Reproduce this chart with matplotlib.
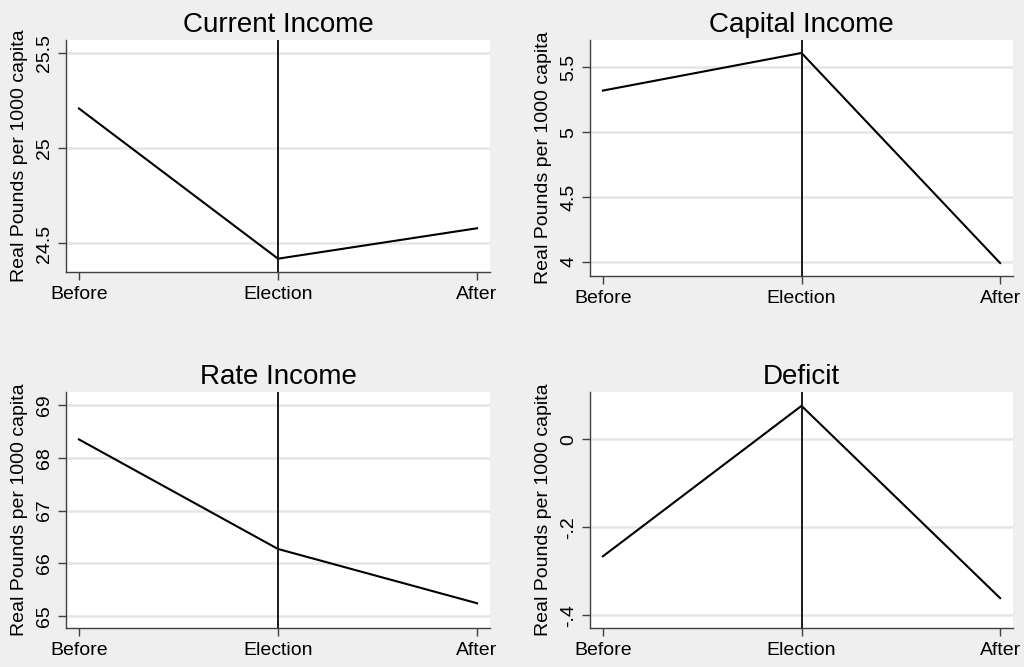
import matplotlib
matplotlib.use("Agg")
import matplotlib.pyplot as plt

plt.rcParams["font.family"] = ["Liberation Sans", "DejaVu Sans"]

periods = ["Before", "Election", "After"]
x = [1, 2, 3]

current_income = [25.21, 24.42, 24.58]
capital_income = [5.32, 5.61, 3.99]
rate_income = [68.35, 66.27, 65.24]
deficit = [-0.266, 0.076, -0.361]

current_ticks = [24.5, 25, 25.5]
capital_ticks = [4, 4.5, 5, 5.5]
rate_ticks = [65, 66, 67, 68, 69]
deficit_ticks = [-0.4, -0.2, 0]
deficit_ticklabels = ["-.4", "-.2", "0"]

bg = "#efefef"
W, H = 1024, 667

fig = plt.figure(figsize=(W / 100, H / 100), dpi=100, facecolor=bg)


def make_axes(left, right, top, bottom):
    return fig.add_axes([left / W, 1 - bottom / H, (right - left) / W, (bottom - top) / H])


def panel(ax, title, values, ticks, ylim, ticklabels=None):
    ax.set_facecolor("white")
    ax.plot(x, values, color="black", lw=1.5, zorder=3)
    ax.axvline(2, color="#1a1a1a", lw=1.4, zorder=4)
    ax.set_xlim(0.935, 3.065)
    ax.set_ylim(*ylim)
    ax.set_xticks(x)
    ax.set_xticklabels(periods)
    ax.set_yticks(ticks)
    if ticklabels is None:
        ticklabels = [f"{t:g}" for t in ticks]
    ax.set_yticklabels(ticklabels, rotation=90, va="center")
    ax.yaxis.grid(True, color="#e6e6e6", lw=1.8, zorder=0)
    ax.set_axisbelow(True)
    for side in ["top", "right"]:
        ax.spines[side].set_visible(False)
    for side in ["left", "bottom"]:
        ax.spines[side].set_color("#404040")
        ax.spines[side].set_linewidth(1.0)
    ax.tick_params(axis="both", length=6, width=1.0, color="#404040",
                   labelsize=14)
    ax.tick_params(axis="x", pad=4)
    ax.tick_params(axis="y", pad=3)
    ax.set_title(title, fontsize=20, pad=6)
    ax.set_ylabel("Real Pounds per 1000 capita", fontsize=14)
    ax.yaxis.set_label_coords(-0.09, 0.5)


ax1 = make_axes(66, 490, 40, 272)
panel(ax1, "Current Income", current_income, current_ticks, (24.35, 25.57))

ax2 = make_axes(590, 1013, 40, 276)
panel(ax2, "Capital Income", capital_income, capital_ticks, (3.89, 5.71))

ax3 = make_axes(66, 490, 392, 628)
panel(ax3, "Rate Income", rate_income, rate_ticks, (64.77, 69.25))

ax4 = make_axes(590, 1013, 392, 628)
panel(ax4, "Deficit", deficit, deficit_ticks, (-0.429, 0.1075), deficit_ticklabels)

fig.savefig("out.png", dpi=100, facecolor=bg)
